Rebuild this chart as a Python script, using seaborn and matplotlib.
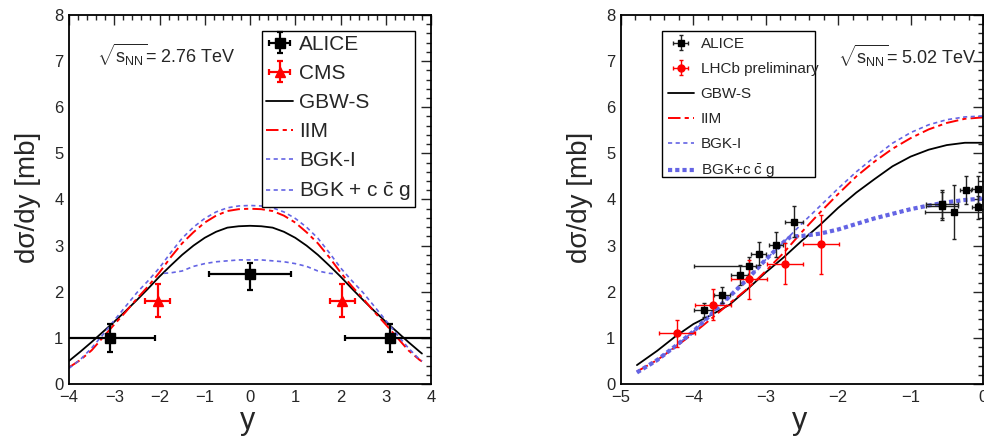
import numpy as np
import pandas as pd
import matplotlib
matplotlib.use("Agg")
import matplotlib.pyplot as plt
import seaborn as sns
from matplotlib.ticker import MultipleLocator
from matplotlib.patches import Rectangle

# ---------------- Left panel: sqrt(s_NN) = 2.76 TeV ----------------
alice276_x = [-3.09, 0.0, 3.09]
alice276_val = [1.0, 2.38, 1.0]
alice276_xerr = [1.0, 0.9, 1.0]
alice276_yerr_lo = [0.30, 0.35, 0.30]
alice276_yerr_hi = [0.31, 0.25, 0.31]

cms_x = [-2.04, 2.04]
cms_val = [1.81, 1.81]
cms_xerr = [0.27, 0.27]
cms_yerr = [0.35, 0.35]

x_left = [-4.0, -3.75, -3.5, -3.25, -3.0, -2.75, -2.5, -2.25, -2.0, -1.75, -1.5, -1.25,
          -1.0, -0.75, -0.5, -0.25, 0.0, 0.25, 0.5, 0.75, 1.0, 1.25, 1.5, 1.75, 2.0,
          2.25, 2.5, 2.75, 3.0, 3.25, 3.5, 3.75, 3.8]
gbws_left = [0.50, 0.70, 0.91, 1.13, 1.35, 1.58, 1.82, 2.07, 2.33, 2.57, 2.80, 3.00,
             3.17, 3.30, 3.39, 3.42, 3.43, 3.42, 3.39, 3.30, 3.17, 3.00, 2.80, 2.57, 2.33,
             2.07, 1.82, 1.58, 1.35, 1.13, 0.91, 0.70, 0.66]
iim_left = [0.36, 0.52, 0.73, 1.01, 1.29, 1.56, 1.85, 2.12, 2.42, 2.75, 3.05, 3.29,
            3.50, 3.65, 3.75, 3.79, 3.80, 3.79, 3.75, 3.65, 3.50, 3.29, 3.05, 2.75, 2.42,
            2.12, 1.85, 1.56, 1.29, 1.01, 0.73, 0.52, 0.49]
bgk_left = [0.34, 0.53, 0.78, 1.07, 1.38, 1.68, 1.98, 2.24, 2.52, 2.85, 3.16, 3.40,
            3.59, 3.73, 3.82, 3.86, 3.87, 3.86, 3.82, 3.73, 3.59, 3.40, 3.16, 2.85, 2.52,
            2.24, 1.98, 1.68, 1.38, 1.07, 0.78, 0.53, 0.50]
x_ccg_left = [-1.9, -1.75, -1.5, -1.25, -1.0, -0.75, -0.5, -0.25, 0.0, 0.25, 0.5, 0.75,
              1.0, 1.25, 1.5, 1.75, 1.85]
ccg_left = [2.40, 2.41, 2.45, 2.55, 2.61, 2.65, 2.67, 2.69, 2.69, 2.69, 2.67, 2.65,
            2.61, 2.55, 2.45, 2.40, 2.39]

# ---------------- Right panel: sqrt(s_NN) = 5.02 TeV ----------------
alice502_x = [-3.86, -3.61, -3.36, -3.23, -3.10, -2.86, -2.61, -0.57, -0.57, -0.40, -0.24, -0.07, -0.07]
alice502_val = [1.60, 1.93, 2.36, 2.55, 2.82, 3.02, 3.52, 3.90, 3.86, 3.73, 4.21, 4.22, 3.83]
alice502_xerr_lo = [0.13, 0.11, 0.12, 0.76, 0.10, 0.10, 0.13, 0.22, 0.22, 0.40, 0.08, 0.08, 0.08]
alice502_xerr_hi = [0.13, 0.11, 0.12, 0.10, 0.10, 0.10, 0.13, 0.22, 0.22, 0.40, 0.08, 0.08, 0.08]
alice502_yerr = [0.15, 0.18, 0.22, 0.20, 0.25, 0.27, 0.33, 0.30, 0.30, 0.58, 0.30, 0.30, 0.25]

lhcb_x = [-4.23, -3.73, -3.23, -2.73, -2.24]
lhcb_val = [1.10, 1.72, 2.27, 2.61, 3.03]
lhcb_xerr = [0.25, 0.25, 0.25, 0.25, 0.25]
lhcb_yerr = [0.29, 0.33, 0.42, 0.45, 0.64]

x_right = [-4.78, -4.5, -4.25, -4.0, -3.75, -3.5, -3.25, -3.0, -2.75, -2.5, -2.25, -2.0,
           -1.75, -1.5, -1.25, -1.0, -0.75, -0.5, -0.25, 0.0]
gbws_right = [0.41, 0.72, 1.03, 1.30, 1.50, 1.72, 2.06, 2.42, 2.75, 3.11, 3.45, 3.82,
              4.15, 4.44, 4.72, 4.93, 5.08, 5.18, 5.23, 5.23]
iim_right = [0.27, 0.52, 0.80, 1.10, 1.42, 1.75, 2.07, 2.45, 2.85, 3.30, 3.72, 4.12,
             4.50, 4.82, 5.10, 5.33, 5.52, 5.66, 5.75, 5.78]
bgk_right = [0.25, 0.52, 0.82, 1.14, 1.52, 1.90, 2.28, 2.70, 3.08, 3.48, 3.86, 4.24,
             4.60, 4.92, 5.22, 5.45, 5.62, 5.73, 5.79, 5.81]
x_ccg_right = [-4.78, -4.5, -4.25, -4.0, -3.75, -3.5, -3.25, -3.0, -2.75, -2.65, -2.5,
               -2.25, -2.0, -1.75, -1.5, -1.25, -1.0, -0.75, -0.5, -0.25, 0.0]
ccg_right = [0.25, 0.52, 0.82, 1.14, 1.52, 1.90, 2.28, 2.70, 3.08, 3.20, 3.21,
             3.26, 3.35, 3.47, 3.59, 3.69, 3.79, 3.87, 3.94, 3.99, 4.02]

labels_left = ["ALICE", "CMS", "GBW-S", "IIM", "BGK-I", r"BGK + c$\;\bar{\mathrm{c}}$ g"]
labels_right = ["ALICE", "LHCb preliminary", "GBW-S", "IIM", "BGK-I", r"BGK+c$\;\bar{\mathrm{c}}$ g"]

# ---------------- Style ----------------
sns.set_style("white")
plt.rcParams.update({
    "font.family": ["Liberation Sans", "DejaVu Sans"],
    "mathtext.fontset": "custom",
    "mathtext.rm": "Liberation Sans",
    "mathtext.it": "Liberation Sans:italic",
    "mathtext.bf": "Liberation Sans:bold",
    "lines.scale_dashes": False,
    "axes.linewidth": 1.3,
    "axes.edgecolor": "black",
})

BLUE = "#6464e4"
RED = "#ff0000"
IIM_STYLE = (0, (9, 3, 3, 3))
BGK_STYLE = (0, (3, 2.5))

fig = plt.figure(figsize=(9.84, 4.41), dpi=100)
axL = fig.add_axes([69 / 984, 57 / 441, 362 / 984, 369 / 441])
axR = fig.add_axes([621 / 984, 57 / 441, 362 / 984, 369 / 441])


def curve(ax, x, y, **kw):
    sns.lineplot(x=x, y=y, ax=ax, sort=False, estimator=None, **kw)
    return ax.lines[-1]


# Left panel curves
l_gbw = curve(axL, x_left, gbws_left, color="black", lw=1.3, label=labels_left[2])
l_iim = curve(axL, x_left, iim_left, color=RED, lw=1.4, linestyle=IIM_STYLE, label=labels_left[3])
l_bgk = curve(axL, x_left, bgk_left, color=BLUE, lw=1.2, linestyle=BGK_STYLE, label=labels_left[4])
l_ccg = curve(axL, x_ccg_left, ccg_left, color=BLUE, lw=1.2, linestyle=BGK_STYLE, label=labels_left[5])

eb_al = axL.errorbar(alice276_x, alice276_val, xerr=alice276_xerr,
                     yerr=[alice276_yerr_lo, alice276_yerr_hi], fmt="s", color="black",
                     ms=7.5, elinewidth=1.6, capsize=2, capthick=1.6, label=labels_left[0], zorder=5)
eb_cms = axL.errorbar(cms_x, cms_val, xerr=cms_xerr, yerr=cms_yerr, fmt="^", color=RED,
                      ms=7.5, elinewidth=1.6, capsize=2, capthick=1.6, label=labels_left[1], zorder=5)

# Right panel curves
r_gbw = curve(axR, x_right, gbws_right, color="black", lw=1.3, label=labels_right[2])
r_iim = curve(axR, x_right, iim_right, color=RED, lw=1.4, linestyle=IIM_STYLE, label=labels_right[3])
r_bgk = curve(axR, x_right, bgk_right, color=BLUE, lw=1.2, linestyle=BGK_STYLE, label=labels_right[4])
r_ccg = curve(axR, x_ccg_right, ccg_right, color=BLUE, lw=3.0, linestyle=(0, (3, 2.2)),
              label=labels_right[5])

eb_al2 = axR.errorbar(alice502_x, alice502_val, xerr=[alice502_xerr_lo, alice502_xerr_hi],
                      yerr=alice502_yerr, fmt="s", color="black", ecolor="#222222",
                      ms=5, elinewidth=1.0, capsize=1.5, capthick=1.0, label=labels_right[0], zorder=5)
eb_lhcb = axR.errorbar(lhcb_x, lhcb_val, xerr=lhcb_xerr, yerr=lhcb_yerr, fmt="o", color=RED,
                       ms=5, elinewidth=1.0, capsize=1.5, capthick=1.0,
                       label=labels_right[1], zorder=5)

for ax, xlim in ((axL, (-4, 4)), (axR, (-5, 0))):
    ax.set_xlim(*xlim)
    ax.set_ylim(0, 8)
    ax.xaxis.set_major_locator(MultipleLocator(1))
    ax.xaxis.set_minor_locator(MultipleLocator(0.2))
    ax.yaxis.set_major_locator(MultipleLocator(1))
    ax.yaxis.set_minor_locator(MultipleLocator(0.2))
    ax.tick_params(which="major", direction="in", length=7, width=1, top=True, right=True,
                   labelsize=12, pad=4)
    ax.tick_params(which="minor", direction="in", length=3.5, width=1, top=True, right=True)
    ax.set_ylabel("dσ/dy [mb]", fontsize=20, va="center")
    ax.yaxis.set_label_coords(-0.113, 0.507)
    ax.set_xlabel("y", fontsize=22, va="baseline")
    ax.xaxis.set_label_coords(0.494, -0.122)

axL.text(0.077, 0.892, r"$\sqrt{\mathrm{s}_{\mathrm{NN}}}$= 2.76 TeV", transform=axL.transAxes,
         fontsize=13, va="center", ha="left")
axR.text(0.60, 0.888, r"$\sqrt{\mathrm{s}_{\mathrm{NN}}}$= 5.02 TeV", transform=axR.transAxes,
         fontsize=13, va="center", ha="left")

legL = axL.legend([eb_al, eb_cms, l_gbw, l_iim, l_bgk, l_ccg], labels_left,
                  loc="upper left", bbox_to_anchor=(0.533, 0.957), fontsize=15,
                  frameon=True, fancybox=False, framealpha=1, edgecolor="black",
                  borderpad=0.2, labelspacing=0.48, handlelength=1.3, handletextpad=0.3,
                  borderaxespad=0)
legL.get_frame().set_linewidth(1.0)

# Right legend: text may run past the box, as in the original, so the box is drawn separately
legR = axR.legend([eb_al2, eb_lhcb, r_gbw, r_iim, r_bgk, r_ccg], labels_right,
                  loc="upper left", bbox_to_anchor=(0.112, 0.957), fontsize=11,
                  frameon=False, borderpad=0.4, labelspacing=0.72, handlelength=1.7,
                  handletextpad=0.45, borderaxespad=0)
axR.add_patch(Rectangle((0.112, 0.560), 0.424, 0.397, transform=axR.transAxes,
                        facecolor="white", edgecolor="black", lw=1.0, zorder=4))
legR.set_zorder(6)

fig.savefig("out.png", dpi=100)
